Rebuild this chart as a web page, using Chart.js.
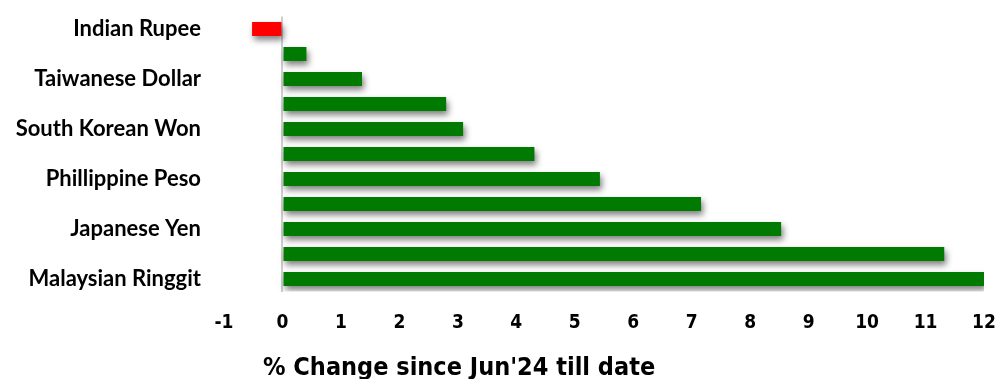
<!DOCTYPE html>
<html>
<head>
<meta charset="utf-8">
<script src="https://cdn.jsdelivr.net/npm/chart.js@4.4.1/dist/chart.umd.min.js"></script>
<style>
  html, body { margin: 0; padding: 0; background: #ffffff; }
  #wrap { width: 997px; height: 379px; position: relative; }
</style>
</head>
<body>
<div id="wrap"><canvas id="chart"></canvas></div>
<script>
// Currencies, top to bottom; only every other row carries a name on the axis
const categories = [
  'Indian Rupee', '', 'Taiwanese Dollar', '', 'South Korean Won', '',
  'Phillippine Peso', '', 'Japanese Yen', '', 'Malaysian Ringgit'
];
// % change since Jun'24
const changeValues = [-0.52, 0.41, 1.36, 2.80, 3.09, 4.31, 5.43, 7.16, 8.53, 11.32, 12.0];
const xTickValues = [-1, 0, 1, 2, 3, 4, 5, 6, 7, 8, 9, 10, 11, 12];
const axisTitle = "% Change since Jun'24 till date";

const barColors = changeValues.map(v => v < 0 ? '#ff0000' : '#007a00');
const condensedBold = "'DejaVu Sans Condensed', 'DejaVu Sans', sans-serif";

// soft drop shadow under the bars
const shadowPlugin = {
  id: 'barShadow',
  beforeDatasetsDraw(chart) {
    const ctx = chart.ctx;
    ctx.save();
    ctx.shadowColor = 'rgba(0,0,0,0.5)';
    ctx.shadowBlur = 6;
    ctx.shadowOffsetX = 2;
    ctx.shadowOffsetY = 4;
  },
  afterDatasetsDraw(chart) {
    chart.ctx.restore();
  }
};

// axis caption below the value ticks, starting a little right of the axis start
const captionPlugin = {
  id: 'axisCaption',
  afterDraw(chart) {
    const ctx = chart.ctx;
    const x = chart.scales.x.getPixelForValue(xTickValues[0]) + 39;
    ctx.save();
    ctx.font = 'bold 25px ' + condensedBold;
    ctx.fillStyle = '#000';
    ctx.textAlign = 'left';
    ctx.textBaseline = 'alphabetic';
    ctx.fillText(axisTitle, x, 375);
    ctx.restore();
  }
};

new Chart(document.getElementById('chart'), {
  type: 'bar',
  data: {
    labels: categories,
    datasets: [{
      data: changeValues,
      backgroundColor: barColors,
      borderWidth: 0,
      barPercentage: 0.62,
      categoryPercentage: 0.9
    }]
  },
  plugins: [shadowPlugin, captionPlugin],
  options: {
    indexAxis: 'y',
    responsive: true,
    maintainAspectRatio: false,
    animation: false,
    layout: { padding: { top: 16.5, right: 13, left: 0, bottom: 0 } },
    plugins: {
      legend: { display: false },
      tooltip: { enabled: false }
    },
    scales: {
      x: {
        min: xTickValues[0],
        max: xTickValues[xTickValues.length - 1],
        afterBuildTicks(scale) {
          scale.ticks = xTickValues.map(v => ({ value: v }));
        },
        afterFit(scale) {
          scale.height = 87.5;
          scale.paddingLeft = 0;
          scale.paddingRight = 0;
        },
        border: { display: false },
        grid: {
          drawTicks: false,
          lineWidth: 2,
          color: c => (c.tick && c.tick.value === 0) ? '#cfcfcf' : 'rgba(0,0,0,0)'
        },
        ticks: {
          padding: 20,
          color: '#000',
          maxRotation: 0,
          font: { family: condensedBold, size: 19, weight: 'bold' }
        }
      },
      y: {
        afterFit(scale) {
          scale.width = 224;
          scale.paddingTop = 0;
          scale.paddingBottom = 0;
        },
        border: { display: false },
        grid: { display: false, drawTicks: false },
        ticks: {
          autoSkip: false,
          padding: 23,
          color: '#000',
          font: { family: "Lato, 'Open Sans', sans-serif", size: 22, weight: 'bold' }
        }
      }
    }
  }
});
</script>
</body>
</html>
